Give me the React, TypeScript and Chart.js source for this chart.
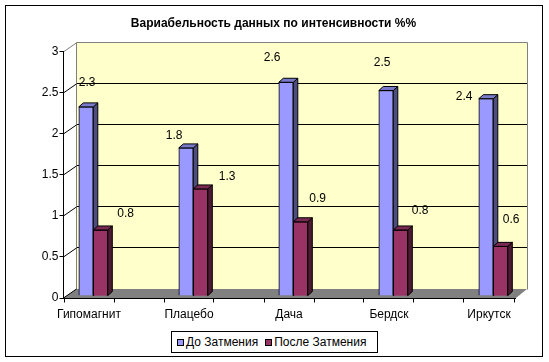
import React, { useEffect, useRef } from 'react';
import { Chart, registerables } from 'chart.js';

Chart.register(...registerables);

// ---------- data ----------
const chartTitle = 'Вариабельность данных по интенсивности %%';
const categories = ['Гипомагнит', 'Плацебо', 'Дача', 'Бердск', 'Иркутск'];
const seriesNames = ['До Затмения', 'После Затмения'];
const beforeEclipse = [2.3, 1.8, 2.6, 2.5, 2.4];
const afterEclipse = [0.8, 1.3, 0.9, 0.8, 0.6];
const yMin = 0;
const yMax = 3;
const yStep = 0.5;

// ---------- style ----------
const FONT = "'Liberation Sans', Arial, sans-serif";
const seriesFront = ['#9999FF', '#993366'];
const seriesSide = ['#4D4D80', '#4D1A33'];
const seriesTop = ['#7A7ACC', '#7A2952'];
// label nudges relative to bar top centre (Excel-like placement), px
const labelNudge = [
  [[1, -24], [-12, -12], [-14, -25], [-4, -28], [-22, -2]],
  [[25, -16], [26.5, -12], [17, -23], [19.5, -19], [10.5, -27]],
];
const FRONT_DY = 2.4; // front plane below bar plane
const WALL_DX_L = 13;
const WALL_DX_R = 11;
const WALL_DY = -9;
const BAR_DX = 4.5;
const BAR_DY = -4;
const X_MIN = -0.293;
const X_MAX = 4.227;

const crisp = (v: number) => Math.floor(v) + 0.5;

const threeDPlugin = {
  id: 'threeD',
  beforeDraw(chart: any) {
    const ctx = chart.ctx;
    ctx.save();
    ctx.fillStyle = '#ffffff';
    ctx.fillRect(0, 0, chart.width, chart.height);
    ctx.strokeStyle = '#000';
    ctx.lineWidth = 1;
    ctx.strokeRect(5.5, 5.5, 537, 351);
    ctx.restore();
  },
  beforeDatasetsDraw(chart: any) {
    const { ctx, chartArea: ca, scales } = chart;
    const y = scales.y;
    const x = scales.x;
    const fy = (v: number) => y.getPixelForValue(v) + FRONT_DY;
    const L = ca.left - 0.5;
    const R = ca.right;
    const bl = L + WALL_DX_L;
    const br = R + WALL_DX_R;
    const top = fy(yMax) + WALL_DY;
    const floorBack = fy(yMin) + WALL_DY;
    const floorFront = fy(yMin);
    ctx.save();
    ctx.lineWidth = 1;
    // back wall
    ctx.fillStyle = '#FFFFCC';
    ctx.fillRect(bl, top, br - bl, floorBack - top);
    // gridlines on back wall
    ctx.strokeStyle = '#000';
    y.ticks.forEach((t: any) => {
      if (t.value <= yMin || t.value >= yMax) return;
      const yy = crisp(fy(t.value) + WALL_DY);
      ctx.beginPath();
      ctx.moveTo(Math.floor(bl), yy);
      ctx.lineTo(Math.floor(br), yy);
      ctx.stroke();
    });
    // back wall border
    ctx.strokeStyle = '#808080';
    ctx.beginPath();
    ctx.moveTo(crisp(bl), crisp(floorBack));
    ctx.lineTo(crisp(bl), crisp(top));
    ctx.lineTo(crisp(br), crisp(top));
    ctx.lineTo(crisp(br), crisp(floorBack));
    ctx.stroke();
    // floor
    ctx.fillStyle = '#808080';
    ctx.beginPath();
    ctx.moveTo(L, floorFront);
    ctx.lineTo(R, floorFront);
    ctx.lineTo(br, floorBack);
    ctx.lineTo(bl, floorBack);
    ctx.closePath();
    ctx.fill();
    // side wall diagonals
    y.ticks.forEach((t: any) => {
      const yy = fy(t.value);
      ctx.strokeStyle = t.value >= yMax ? '#808080' : '#000';
      ctx.beginPath();
      ctx.moveTo(L, yy);
      ctx.lineTo(bl, yy + WALL_DY);
      ctx.stroke();
    });
    // front vertical axis and its tick marks
    ctx.strokeStyle = '#000';
    ctx.beginPath();
    ctx.moveTo(crisp(L), Math.floor(fy(yMax)));
    ctx.lineTo(crisp(L), Math.floor(fy(yMin)) + 1);
    ctx.stroke();
    y.ticks.forEach((t: any) => {
      const yy = crisp(fy(t.value));
      ctx.beginPath();
      ctx.moveTo(crisp(L) - 4, yy);
      ctx.lineTo(crisp(L), yy);
      ctx.stroke();
    });
    // front floor edge (category axis) and its tick marks
    const fyy = crisp(floorFront);
    ctx.beginPath();
    ctx.moveTo(crisp(L), fyy);
    ctx.lineTo(R, fyy);
    ctx.stroke();
    x.ticks.forEach((t: any) => {
      const xx = crisp(x.getPixelForValue(t.value));
      ctx.beginPath();
      ctx.moveTo(xx, fyy);
      ctx.lineTo(xx, fyy + 4);
      ctx.stroke();
    });
    ctx.restore();
  },
  afterDatasetsDraw(chart: any) {
    const ctx = chart.ctx;
    const metas = [chart.getDatasetMeta(0), chart.getDatasetMeta(1)];
    ctx.save();
    ctx.lineWidth = 1;
    ctx.strokeStyle = '#000';
    const faces = (el: any, s: number) => {
      const p = el.getProps(['x', 'y', 'base', 'width'], true);
      const l = p.x - p.width / 2;
      const r = p.x + p.width / 2;
      const t = p.y;
      const b = p.base;
      // side
      ctx.fillStyle = seriesSide[s];
      ctx.beginPath();
      ctx.moveTo(r, t);
      ctx.lineTo(r + BAR_DX, t + BAR_DY);
      ctx.lineTo(r + BAR_DX, b + BAR_DY);
      ctx.lineTo(r, b);
      ctx.closePath();
      ctx.fill();
      ctx.stroke();
      // top
      ctx.fillStyle = seriesTop[s];
      ctx.beginPath();
      ctx.moveTo(l, t);
      ctx.lineTo(l + BAR_DX, t + BAR_DY);
      ctx.lineTo(r + BAR_DX, t + BAR_DY);
      ctx.lineTo(r, t);
      ctx.closePath();
      ctx.fill();
      ctx.stroke();
    };
    for (let i = 0; i < categories.length; i++) {
      faces(metas[0].data[i], 0);
      metas[1].data[i].draw(ctx, chart.chartArea);
      faces(metas[1].data[i], 1);
    }
    // data labels
    ctx.fillStyle = '#000';
    ctx.font = `12px ${FONT}`;
    ctx.textAlign = 'center';
    ctx.textBaseline = 'middle';
    metas.forEach((meta: any, s: number) => {
      meta.data.forEach((el: any, i: number) => {
        const p = el.getProps(['x', 'y'], true);
        const v = chart.data.datasets[s].data[i].y;
        ctx.fillText(String(v), p.x + labelNudge[s][i][0], p.y + labelNudge[s][i][1]);
      });
    });
    ctx.restore();
  },
};

export default function App() {
  const ref = useRef<HTMLCanvasElement>(null);
  useEffect(() => {
    document.body.style.margin = '0';
    const canvas = ref.current!;
    Chart.defaults.font.family = FONT;
    Chart.defaults.font.size = 12;
    Chart.defaults.color = '#000';
    const chart = new Chart(canvas, {
      type: 'bar',
      data: {
        datasets: [
          {
            label: seriesNames[0],
            data: beforeEclipse.map((v, i) => ({ x: i, y: v })),
            backgroundColor: seriesFront[0],
            borderColor: '#000',
            borderWidth: 1,
            barThickness: 14.5,
          },
          {
            label: seriesNames[1],
            data: afterEclipse.map((v, i) => ({ x: i, y: v })),
            backgroundColor: seriesFront[1],
            borderColor: '#000',
            borderWidth: 1,
            barThickness: 14.5,
          },
        ],
      },
      options: {
        responsive: false,
        animation: false,
        locale: 'en-US',
        devicePixelRatio: 1,
        layout: { padding: { top: 0, left: 31, right: 33, bottom: 0 } },
        plugins: {
          legend: { display: false },
          tooltip: { enabled: false },
          title: {
            display: true,
            text: chartTitle,
            color: '#000',
            font: { family: FONT, size: 12, weight: 'bold' },
            padding: { top: 16.8, bottom: 18.25 },
          },
        },
        scales: {
          x: {
            type: 'linear',
            min: X_MIN,
            max: X_MAX,
            offset: false,
            grid: { display: false, drawTicks: false },
            border: { display: false },
            afterBuildTicks: (scale: any) => {
              const t = [];
              for (let k = 0; k <= categories.length * 2 - 1; k++) t.push({ value: X_MIN + 0.5 * k });
              scale.ticks = t;
            },
            afterFit: (scale: any) => {
              scale.height = 66.4;
            },
            ticks: {
              autoSkip: false,
              maxRotation: 0,
              minRotation: 0,
              padding: 11.7,
              labelOffset: 25,
              color: '#000',
              font: { family: FONT, size: 12 },
              callback: (_v: any, idx: number) => (idx % 2 === 0 ? categories[idx / 2] : ''),
            },
          },
          y: {
            min: yMin,
            max: yMax,
            grid: { display: false, drawTicks: false },
            border: { display: false },
            afterFit: (scale: any) => {
              scale.width = 33;
            },
            ticks: {
              stepSize: yStep,
              padding: 5.5,
              labelOffset: FRONT_DY,
              color: '#000',
              font: { family: FONT, size: 12 },
              callback: (v: any) => String(Math.round(Number(v) * 10) / 10),
            },
          },
        },
      },
      plugins: [threeDPlugin],
    });
    return () => chart.destroy();
  }, []);

  const legendFont = `12px ${FONT}`;
  return (
    <div style={{ position: 'relative', width: 549, height: 362 }}>
      <canvas ref={ref} width={549} height={362} style={{ display: 'block' }} />
      <div
        style={{
          position: 'absolute',
          left: 171,
          top: 331,
          width: 207,
          height: 22,
          boxSizing: 'border-box',
          border: '1px solid #000',
          background: '#fff',
          font: legendFont,
          color: '#000',
          display: 'flex',
          alignItems: 'center',
          paddingLeft: 5,
          whiteSpace: 'nowrap',
        }}
      >
        {seriesNames.map((n, i) => (
          <span key={n} style={{ display: 'inline-flex', alignItems: 'center', marginLeft: i === 0 ? 0 : 7 }}>
            <span
              style={{
                display: 'inline-block',
                width: 7,
                height: 7,
                boxSizing: 'border-box',
                border: '1px solid #000',
                background: seriesFront[i],
                marginRight: 2,
              }}
            />
            <span>{n}</span>
          </span>
        ))}
      </div>
    </div>
  );
}
